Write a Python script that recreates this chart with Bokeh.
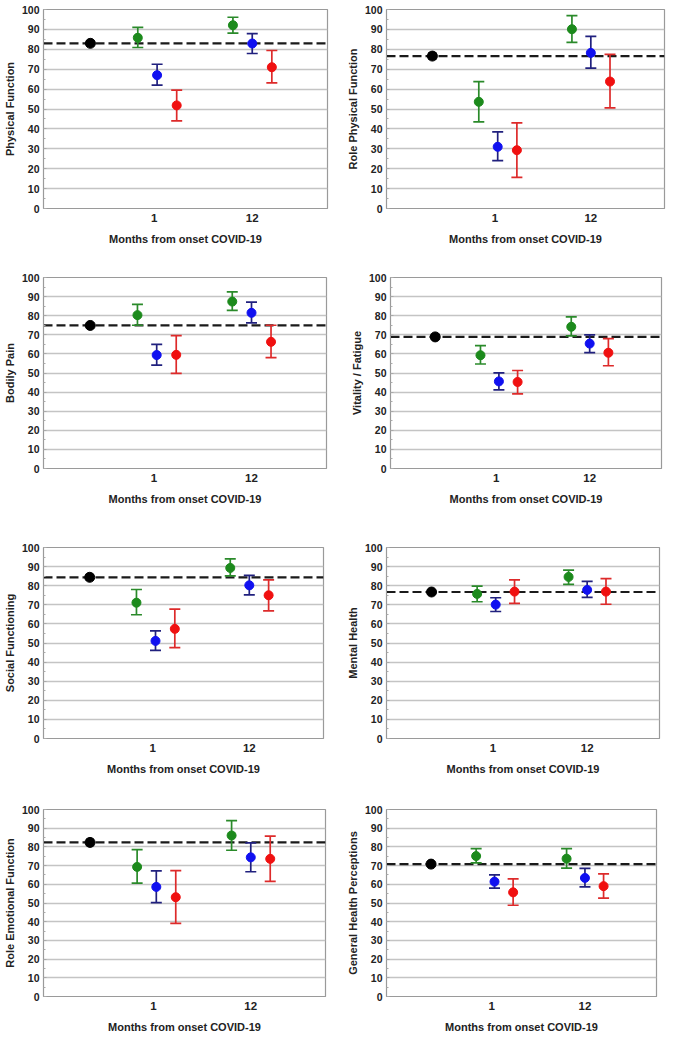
from bokeh.plotting import figure
from bokeh.layouts import column, row
from bokeh.models import ColumnDataSource, Whisker, TeeHead, Range1d, FixedTicker, Span
from bokeh.embed import file_html
from bokeh.resources import INLINE

# ---------------- data ----------------
panel_labels = ["Physical Function", "Role Physical Function", "Bodily Pain", "Vitality / Fatigue",
                "Social Functioning", "Mental Health", "Role Emotional Function", "General Health Perceptions"]
month_labels = ["1", "12"]
x_title = "Months from onset COVID-19"
y_ticks = [0, 10, 20, 30, 40, 50, 60, 70, 80, 90, 100]

# reference (black) value and its error bar, one per panel
base_mean = [83.0, 76.6, 74.9, 68.9, 84.4, 76.7, 82.4, 70.8]
base_lo = [81.8, 75.0, 73.7, 67.8, 83.0, 75.6, 80.8, 69.8]
base_hi = [84.2, 78.2, 76.1, 70.0, 85.8, 77.8, 84.0, 71.8]

# each entry: [month 1, month 12]
green_mean = [[85.8, 92.1], [53.6, 90.1], [80.3, 87.4], [59.3, 74.2], [71.1, 89.3], [75.7, 84.6], [69.3, 86.1], [75.1, 73.7]]
green_lo = [[80.9, 88.1], [43.5, 83.5], [75.0, 82.8], [54.7, 69.4], [64.8, 85.1], [71.6, 80.7], [60.6, 78.2], [71.5, 68.6]]
green_hi = [[91.0, 96.1], [63.8, 96.9], [85.9, 92.5], [64.3, 79.4], [78.0, 94.0], [79.8, 88.2], [78.5, 94.1], [79.1, 79.1]]

blue_mean = [[67.0, 82.9], [31.0, 78.2], [59.4, 81.5], [45.6, 65.4], [51.1, 80.2], [70.1, 77.8], [58.6, 74.4], [61.4, 63.4]]
blue_lo = [[62.0, 77.9], [24.1, 70.5], [54.1, 76.2], [41.2, 60.7], [46.1, 75.2], [66.5, 73.9], [50.2, 66.7], [58.0, 58.6]]
blue_hi = [[72.5, 87.9], [38.5, 86.5], [65.0, 87.1], [50.1, 70.0], [56.4, 85.4], [73.7, 82.3], [67.2, 82.2], [65.0, 68.5]]

red_mean = [[51.8, 71.0], [29.3, 63.8], [59.5, 66.3], [45.3, 60.6], [57.4, 75.0], [76.9, 76.9], [53.1, 73.6], [55.7, 59.0]]
red_lo = [[44.0, 63.1], [15.6, 50.6], [49.8, 58.0], [39.1, 53.8], [47.6, 66.8], [70.7, 70.3], [39.1, 61.6], [48.8, 52.6]]
red_hi = [[59.5, 79.4], [43.0, 77.5], [69.6, 75.0], [51.3, 68.0], [67.7, 83.1], [83.0, 83.7], [67.3, 85.8], [62.9, 65.6]]

# ---------------- layout / style ----------------
FONT = "Liberation Sans"
X_BASE = 33
GROUP_CENTERS = [80, 147]
TICK_POS = [78, 147]
OFFSETS = {"green": -13.6, "blue": 0.0, "red": 13.8}
MARKER = {"green": "#1c8a1c", "blue": "#1010f0", "red": "#f01010"}
ERRC = {"green": "#2a8a2a", "blue": "#20207e", "red": "#dd2a2a"}

# (width, height, left, right, top, bottom) per panel
dims = [
    (333, 252, 36, 6, 9, 44),
    (333, 252, 53, 2, 9, 44),
    (333, 259, 43, 7, 25, 43),
    (333, 259, 57, 5, 25, 43),
    (333, 268, 34, 10, 36, 41),
    (333, 268, 53, 7, 36, 41),
    (333, 257, 33, 8, 30, 40),
    (333, 257, 53, 10, 30, 40),
]


def add_err(p, xs, ys, lo, hi, mcolor, ecolor, msize, cap):
    src = ColumnDataSource(dict(x=xs, y=ys, lo=lo, hi=hi))
    w = Whisker(source=src, base="x", lower="lo", upper="hi", dimension="height",
                line_color=ecolor, line_width=1.7,
                upper_head=TeeHead(size=cap, line_color=ecolor, line_width=1.7),
                lower_head=TeeHead(size=cap, line_color=ecolor, line_width=1.7))
    p.add_layout(w)
    p.scatter("x", "y", source=src, size=msize, fill_color=mcolor, line_color=mcolor)


figs = []
for i in range(8):
    w, h, l, r, t, b = dims[i]
    p = figure(width=w, height=h, title=None,
               output_backend="svg", toolbar_location=None,
               x_range=Range1d(0, 200), y_range=Range1d(0, 100),
               min_border_left=l, min_border_right=r, min_border_top=t, min_border_bottom=b)
    p.background_fill_color = "white"
    p.border_fill_color = "white"
    p.outline_line_color = "#9a9a9a"
    p.outline_line_width = 1.2

    p.xgrid.visible = False
    p.ygrid.grid_line_color = "#c4c4c4"
    p.ygrid.grid_line_width = 1.3
    p.ygrid.ticker = FixedTicker(ticks=y_ticks)

    yax = p.yaxis[0]
    yax.ticker = FixedTicker(ticks=y_ticks, minor_ticks=[v + 5 for v in y_ticks[:-1]])
    yax.axis_line_color = "#9a9a9a"
    yax.major_tick_in = 3
    yax.major_tick_out = 0
    yax.minor_tick_in = 2
    yax.minor_tick_out = 0
    yax.major_tick_line_color = "#aaaaaa"
    yax.minor_tick_line_color = "#aaaaaa"
    yax.major_label_text_font = FONT
    yax.major_label_text_font_style = "bold"
    yax.major_label_text_font_size = "10.5px"
    yax.major_label_text_color = "#222222"
    yax.major_label_standoff = 4
    yax.axis_label = panel_labels[i]
    yax.axis_label_text_font = FONT
    yax.axis_label_text_font_style = "bold"
    yax.axis_label_text_font_size = "11px"
    yax.axis_label_text_color = "#222222"
    yax.axis_label_standoff = 3

    xax = p.xaxis[0]
    xax.ticker = FixedTicker(ticks=TICK_POS, minor_ticks=[])
    xax.major_label_overrides = {TICK_POS[k]: month_labels[k] for k in range(2)}
    xax.axis_line_color = "#9a9a9a"
    xax.major_tick_in = 0
    xax.major_tick_out = 0
    xax.minor_tick_line_color = None
    xax.major_label_text_font = FONT
    xax.major_label_text_font_style = "bold"
    xax.major_label_text_font_size = "11.5px"
    xax.major_label_text_color = "#222222"
    xax.major_label_standoff = 5
    xax.axis_label = x_title
    xax.axis_label_text_font = FONT
    xax.axis_label_text_font_style = "bold"
    xax.axis_label_text_font_size = "11px"
    xax.axis_label_text_color = "#222222"
    xax.axis_label_standoff = 8

    span = Span(location=base_mean[i], dimension="width", line_color="#1a1a1a",
                line_width=2.2, line_dash="9 4", level="underlay")
    p.add_layout(span)

    add_err(p, [X_BASE], [base_mean[i]], [base_lo[i]], [base_hi[i]], "#000000", "#000000", 10, 8)
    for name, mean, lo, hi in (("green", green_mean, green_lo, green_hi),
                               ("blue", blue_mean, blue_lo, blue_hi),
                               ("red", red_mean, red_lo, red_hi)):
        xs = [c + OFFSETS[name] for c in GROUP_CENTERS]
        add_err(p, xs, mean[i], lo[i], hi[i], MARKER[name], ERRC[name], 9, 11)
    figs.append(p)

layout = column(row(figs[0], figs[1]), row(figs[2], figs[3]),
                row(figs[4], figs[5]), row(figs[6], figs[7]))

open("out.html", "w").write(file_html(layout, INLINE))
